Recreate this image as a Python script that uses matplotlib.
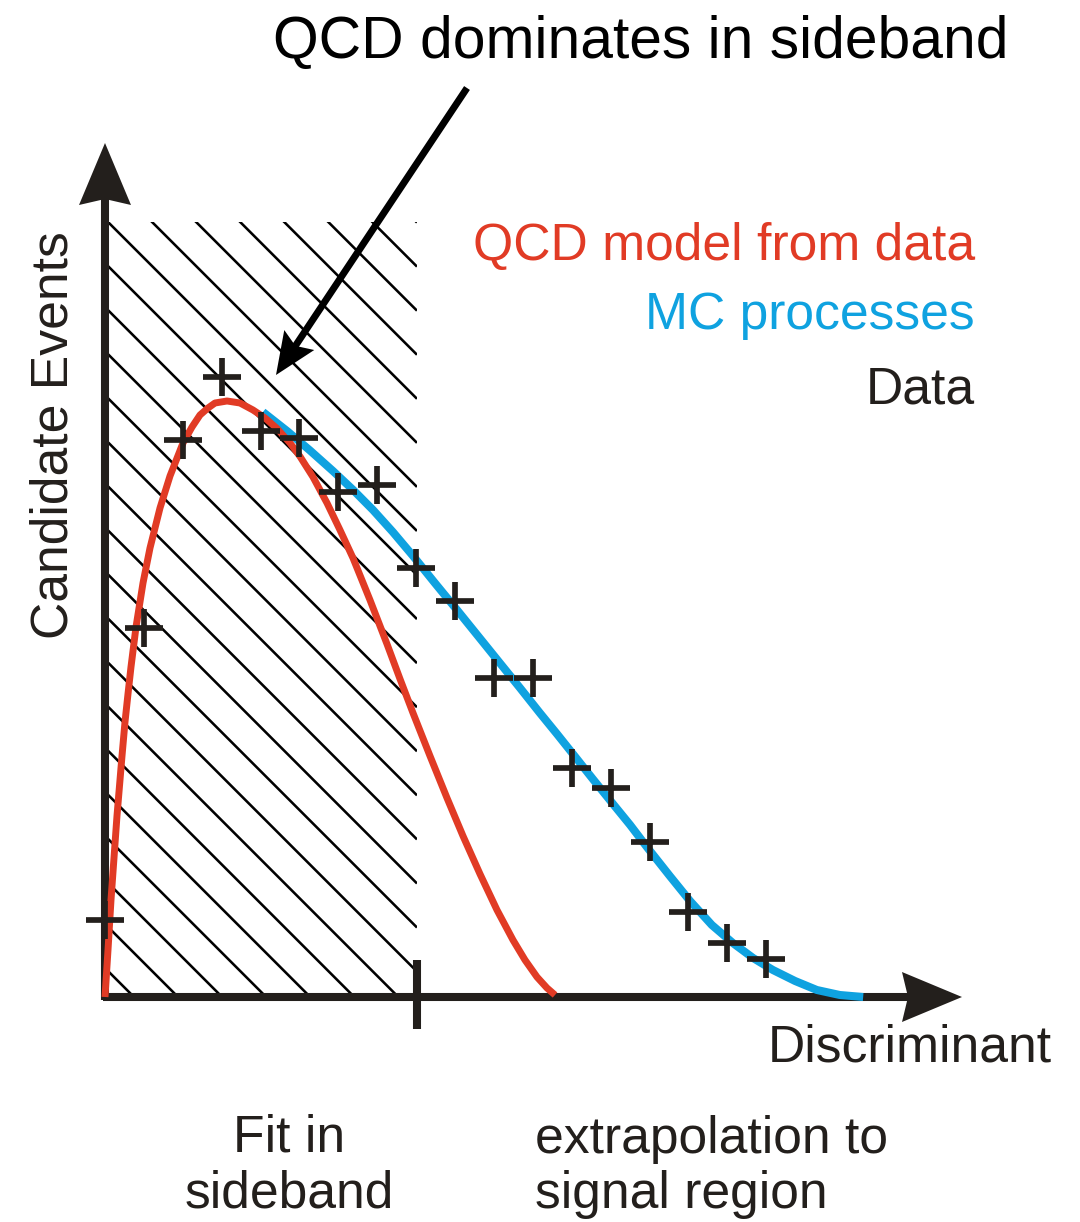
import numpy as np
import matplotlib
matplotlib.use("Agg")
import matplotlib.pyplot as plt
import matplotlib.transforms as mtransforms
from matplotlib.patches import Polygon, Rectangle

plt.rcParams["font.family"] = ["Liberation Sans", "DejaVu Sans"]

# ---------------------------------------------------------------- data
# observed counts per discriminant bin
bin_index = list(range(18))
data_counts = [15.4, 73.8, 111.4, 124.0, 113.2, 111.8, 101.0, 102.4, 85.8,
               79.2, 63.8, 63.8, 45.8, 41.8, 31.0, 17.0, 10.8, 7.6]

# QCD shape taken from data (sideband fit)
qcd_x = [0.000, 0.077, 0.154, 0.231, 0.308, 0.437, 0.514, 0.591, 0.668,
         0.797, 0.977, 1.157, 1.414, 1.671, 2.005, 2.237, 2.442, 2.648,
         2.828, 3.136, 3.470, 3.805, 4.113, 4.422, 4.756, 5.013, 5.347,
         5.707, 6.041, 6.375, 6.812, 7.249, 7.584, 7.918, 8.355, 8.792,
         9.203, 9.640, 10.077, 10.488, 10.797, 11.105, 11.362, 11.568]
qcd_y = [0.0, 9.4, 19.4, 27.8, 36.2, 48.2, 55.0, 60.6, 66.0,
         74.0, 82.8, 89.8, 97.8, 104.2, 110.8, 114.0, 116.4, 117.8,
         118.8, 119.2, 118.8, 117.4, 115.8, 113.7, 110.8, 108.1, 104.0,
         98.8, 93.4, 87.8, 79.4, 70.6, 63.6, 56.8, 48.2, 39.8,
         32.2, 24.6, 17.4, 11.4, 7.4, 4.0, 1.8, 0.4]

# MC processes (total expectation)
mc_x = [4.06, 4.68, 5.27, 5.86, 6.38, 6.89, 7.40, 7.92, 8.48, 9.05, 9.59,
        10.15, 10.67, 11.18, 11.62, 12.03, 12.54, 13.06, 13.50, 13.93, 14.52,
        15.04, 15.60, 16.14, 16.66, 17.17, 17.74, 18.30, 18.89, 19.49]
mc_y = [117.0, 113.2, 109.3, 105.2, 101.4, 97.4, 93.0, 88.2, 82.8, 77.4,
        72.2, 66.8, 61.8, 56.8, 52.6, 48.6, 43.6, 38.6, 34.4, 30.0, 24.2,
        19.2, 14.4, 10.8, 7.8, 5.4, 3.2, 1.4, 0.4, 0.0]

sideband_edge = 8.02      # end of the fit (sideband) region
sideband_top = 155.0

# ---------------------------------------------------------------- layout
W, H = 1080, 1222
ORIGIN_PX = (105, 997)
PX_PER_BIN = 38.9
PX_PER_EVENT = 5.0

INK = "#231F1C"
RED = "#E13B25"
BLUE = "#0FA2E0"

fig = plt.figure(figsize=(W / 100, H / 100), dpi=100)
ax = fig.add_axes([0, 0, 1, 1])
ax.set_xlim(-ORIGIN_PX[0] / PX_PER_BIN, (W - ORIGIN_PX[0]) / PX_PER_BIN)
ax.set_ylim((ORIGIN_PX[1] - H) / PX_PER_EVENT, ORIGIN_PX[1] / PX_PER_EVENT)
ax.axis("off")


def fx(px):
    return px / W


def fy(py):
    return 1 - py / H


def arrow_head(tip, tail, length, half_width, notch, color, lw=0, z=6):
    """Filled arrow head (sizes in pixels) pointing from tail to tip.
    Returns the data point where the shaft should stop."""
    p_tip = ax.transData.transform(tip)
    p_tail = ax.transData.transform(tail)
    u = (p_tip - p_tail) / np.linalg.norm(p_tip - p_tail)
    n = np.array([-u[1], u[0]])
    pts = [p_tip,
           p_tip - u * length + n * half_width,
           p_tip - u * (length - notch),
           p_tip - u * length - n * half_width]
    ax.add_patch(Polygon(pts, closed=True, facecolor=color, edgecolor=color,
                         linewidth=lw, transform=mtransforms.IdentityTransform(),
                         zorder=z))
    base = p_tip - u * (length - notch - 2)
    return ax.transData.inverted().transform(base)


# ---------------------------------------------------------------- hatched sideband
clip = Rectangle((0, 0), sideband_edge, sideband_top, transform=ax.transData)
slope = -PX_PER_BIN / PX_PER_EVENT          # 45 degree lines on screen
spacing = 44.06 / PX_PER_EVENT
start = (ORIGIN_PX[1] - 219) / PX_PER_EVENT
for k in range(-10, 20):
    y0 = start - k * spacing
    xs = np.array([0.0, sideband_edge])
    ln, = ax.plot(xs, y0 + slope * xs, color="black", lw=1.85, zorder=1,
                  solid_capstyle="butt")
    ln.set_clip_path(clip)

# ---------------------------------------------------------------- axes with arrows
axis_lw = 5.8
y_tip = (ORIGIN_PX[1] - 143) / PX_PER_EVENT
x_tip = (962 - ORIGIN_PX[0]) / PX_PER_BIN
yb = arrow_head((0, y_tip), (0, 0), 62, 26, 6, INK, z=3)
xb = arrow_head((x_tip, 0), (0, 0), 60, 25, 6, INK, z=3)
ax.plot([0, 0], [-0.6, yb[1]], color=INK, lw=axis_lw, solid_capstyle="butt", zorder=2)
ax.plot([-0.05, xb[0]], [0, 0], color=INK, lw=axis_lw, solid_capstyle="butt", zorder=2)
# boundary tick between sideband and signal region
ax.plot([sideband_edge, sideband_edge],
        [(ORIGIN_PX[1] - 960) / PX_PER_EVENT, (ORIGIN_PX[1] - 1029) / PX_PER_EVENT],
        color=INK, lw=axis_lw, solid_capstyle="butt", zorder=2)

# ---------------------------------------------------------------- curves and data
ax.plot(mc_x, mc_y, color=BLUE, lw=5.8, solid_capstyle="butt",
        solid_joinstyle="round", zorder=3)
ax.plot(qcd_x, qcd_y, color=RED, lw=5.0, solid_capstyle="butt",
        solid_joinstyle="round", zorder=4)
ax.plot(bin_index, data_counts, linestyle="none", marker="+", markersize=28,
        markeredgewidth=4.1, color=INK, zorder=5)

# ---------------------------------------------------------------- annotation arrow
a_tail = ((467 - ORIGIN_PX[0]) / PX_PER_BIN, (ORIGIN_PX[1] - 88) / PX_PER_EVENT)
a_tip = ((276 - ORIGIN_PX[0]) / PX_PER_BIN, (ORIGIN_PX[1] - 375) / PX_PER_EVENT)
ab = arrow_head(a_tip, a_tail, 42, 18, 7, "black", z=6)
ax.plot([a_tail[0], ab[0]], [a_tail[1], ab[1]], color="black", lw=5.0,
        solid_capstyle="butt", zorder=6)

# ---------------------------------------------------------------- text
fs = 37.2
fig.text(fx(641), fy(58), "QCD dominates in sideband", fontsize=42.3,
         ha="center", va="baseline", color="black")
fig.text(fx(975), fy(260), "QCD model from data", fontsize=fs,
         ha="right", va="baseline", color=RED)
fig.text(fx(975), fy(329), "MC processes", fontsize=fs,
         ha="right", va="baseline", color=BLUE)
fig.text(fx(975), fy(404), "Data", fontsize=fs,
         ha="right", va="baseline", color=INK)
fig.text(fx(68), fy(435), "Candidate Events", fontsize=fs, rotation=90,
         rotation_mode="anchor", ha="center", va="baseline", color=INK)
fig.text(fx(768), fy(1061), "Discriminant", fontsize=fs,
         ha="left", va="baseline", color=INK)
fig.text(fx(289), fy(1152), "Fit in", fontsize=fs,
         ha="center", va="baseline", color=INK)
fig.text(fx(289), fy(1208), "sideband", fontsize=fs,
         ha="center", va="baseline", color=INK)
fig.text(fx(535), fy(1153), "extrapolation to", fontsize=fs,
         ha="left", va="baseline", color=INK)
fig.text(fx(535), fy(1208), "signal region", fontsize=fs,
         ha="left", va="baseline", color=INK)

fig.savefig("out.png", dpi=100, facecolor="white")
